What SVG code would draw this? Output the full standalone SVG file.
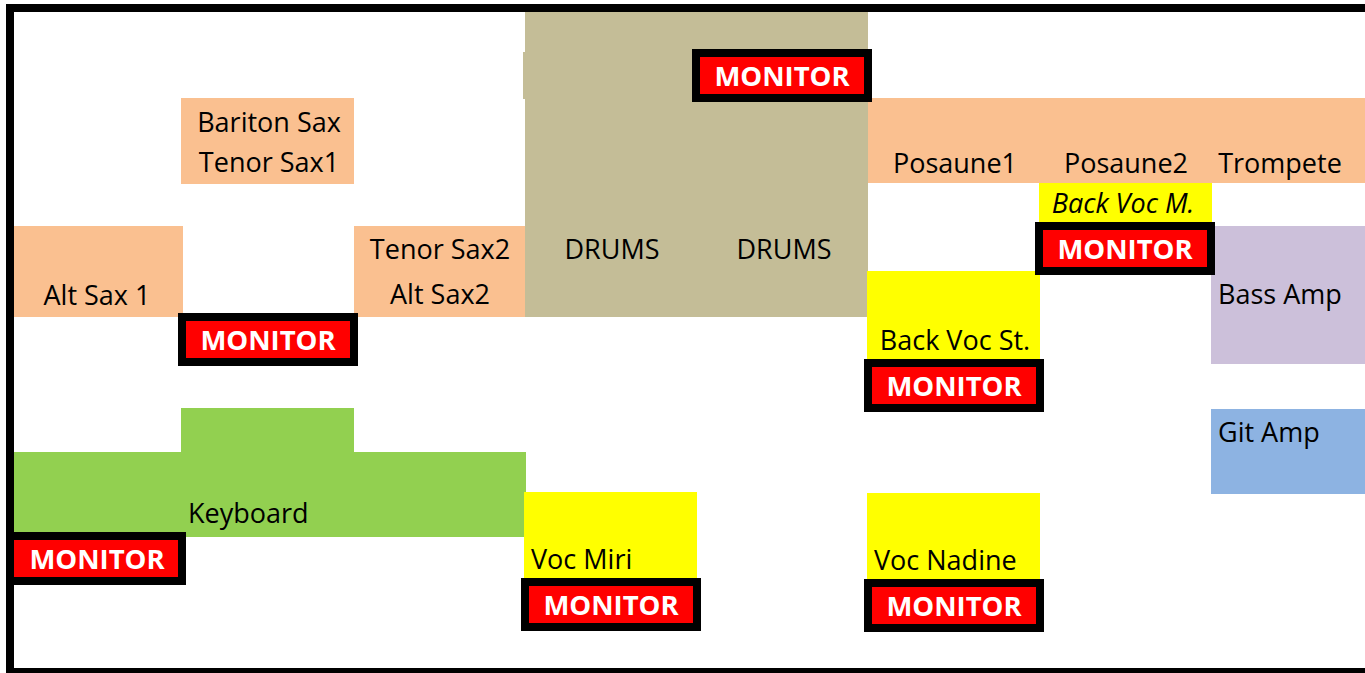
<svg xmlns="http://www.w3.org/2000/svg" width="1365" height="673" viewBox="0 0 1365 673">
<style>
.t{font-family:"Open Sans","Noto Sans","Liberation Sans",sans-serif;font-size:27px;fill:#000}
.m{font-family:"Open Sans","Noto Sans","Liberation Sans",sans-serif;font-size:27.5px;font-weight:bold;fill:#fff;text-anchor:middle}
.c{text-anchor:middle}
.mon{fill:#ff0000;stroke:#000;stroke-width:8}
.peach{fill:#fac090}
.drum{fill:#c4bd97}
.yel{fill:#ffff00}
</style>
<rect width="1365" height="673" fill="#fff"/>
<g id="drums">
<rect class="drum" x="525" y="12" width="343" height="305"/>
<rect class="drum" x="523" y="52" width="3" height="47"/>
<text class="t c" x="612" y="259">DRUMS</text>
<text class="t c" x="784" y="259">DRUMS</text>
</g>
<g id="bariton-tenor1">
<rect class="peach" x="181" y="98" width="173" height="86"/>
<text class="t c" x="269" y="132">Bariton Sax</text>
<text class="t c" x="269" y="172">Tenor Sax1</text>
</g>
<g id="altsax1">
<rect class="peach" x="14" y="226" width="169" height="91"/>
<text class="t c" x="97" y="305">Alt Sax 1</text>
</g>
<g id="tenor2-alt2">
<rect class="peach" x="354" y="226" width="171" height="91"/>
<text class="t c" x="440" y="259">Tenor Sax2</text>
<text class="t c" x="440" y="304">Alt Sax2</text>
</g>
<g id="horns">
<rect class="peach" x="868" y="98" width="497" height="85"/>
<text class="t c" x="955" y="173">Posaune1</text>
<text class="t c" x="1126" y="173">Posaune2</text>
<text class="t c" x="1280" y="173">Trompete</text>
</g>
<g id="backvoc-m">
<rect class="yel" x="1039" y="183" width="173" height="39"/>
<text class="t c" x="1123" y="213" font-style="italic">Back Voc M.</text>
</g>
<g id="backvoc-st">
<rect class="yel" x="867" y="271" width="173" height="88"/>
<text class="t c" x="955" y="350">Back Voc St.</text>
</g>
<g id="bassamp">
<rect x="1211" y="226" width="154" height="138" fill="#ccc0da"/>
<text class="t" x="1218" y="304">Bass Amp</text>
</g>
<g id="gitamp">
<rect x="1211" y="409" width="154" height="85" fill="#8db3e2"/>
<text class="t" x="1218" y="442">Git Amp</text>
</g>
<g id="keyboard">
<polygon points="181,408 354,408 354,452 526,452 526,537 14,537 14,452 181,452" fill="#92d050"/>
<text class="t" x="188" y="523">Keyboard</text>
</g>
<g id="voc-miri">
<rect class="yel" x="524" y="492" width="173" height="86"/>
<text class="t" x="531" y="569">Voc Miri</text>
</g>
<g id="voc-nadine">
<rect class="yel" x="867" y="493" width="173" height="86"/>
<text class="t" x="874" y="570">Voc Nadine</text>
</g>
<g id="monitor-drums">
<rect class="mon" x="696" y="53" width="172" height="45"/>
<text class="m" x="782" y="85.5">MONITOR</text>
</g>
<g id="monitor-sax">
<rect class="mon" x="182" y="317" width="172" height="45"/>
<text class="m" x="268" y="349.5">MONITOR</text>
</g>
<g id="monitor-backvoc-m">
<rect class="mon" x="1039" y="226" width="172" height="45"/>
<text class="m" x="1125" y="258.5">MONITOR</text>
</g>
<g id="monitor-backvoc-st">
<rect class="mon" x="868" y="363" width="172" height="45"/>
<text class="m" x="954" y="395.5">MONITOR</text>
</g>
<g id="monitor-keyboard">
<rect class="mon" x="10" y="536" width="172" height="45"/>
<text class="m" x="97" y="568.5">MONITOR</text>
</g>
<g id="monitor-miri">
<rect class="mon" x="525" y="582" width="172" height="45"/>
<text class="m" x="611" y="614.5">MONITOR</text>
</g>
<g id="monitor-nadine">
<rect class="mon" x="868" y="583" width="172" height="45"/>
<text class="m" x="954" y="615.5">MONITOR</text>
</g>
<g id="connectors"></g>
<path id="stage-border" d="M1370 8 H10 V672 H1370" fill="none" stroke="#000" stroke-width="8"/>
</svg>
